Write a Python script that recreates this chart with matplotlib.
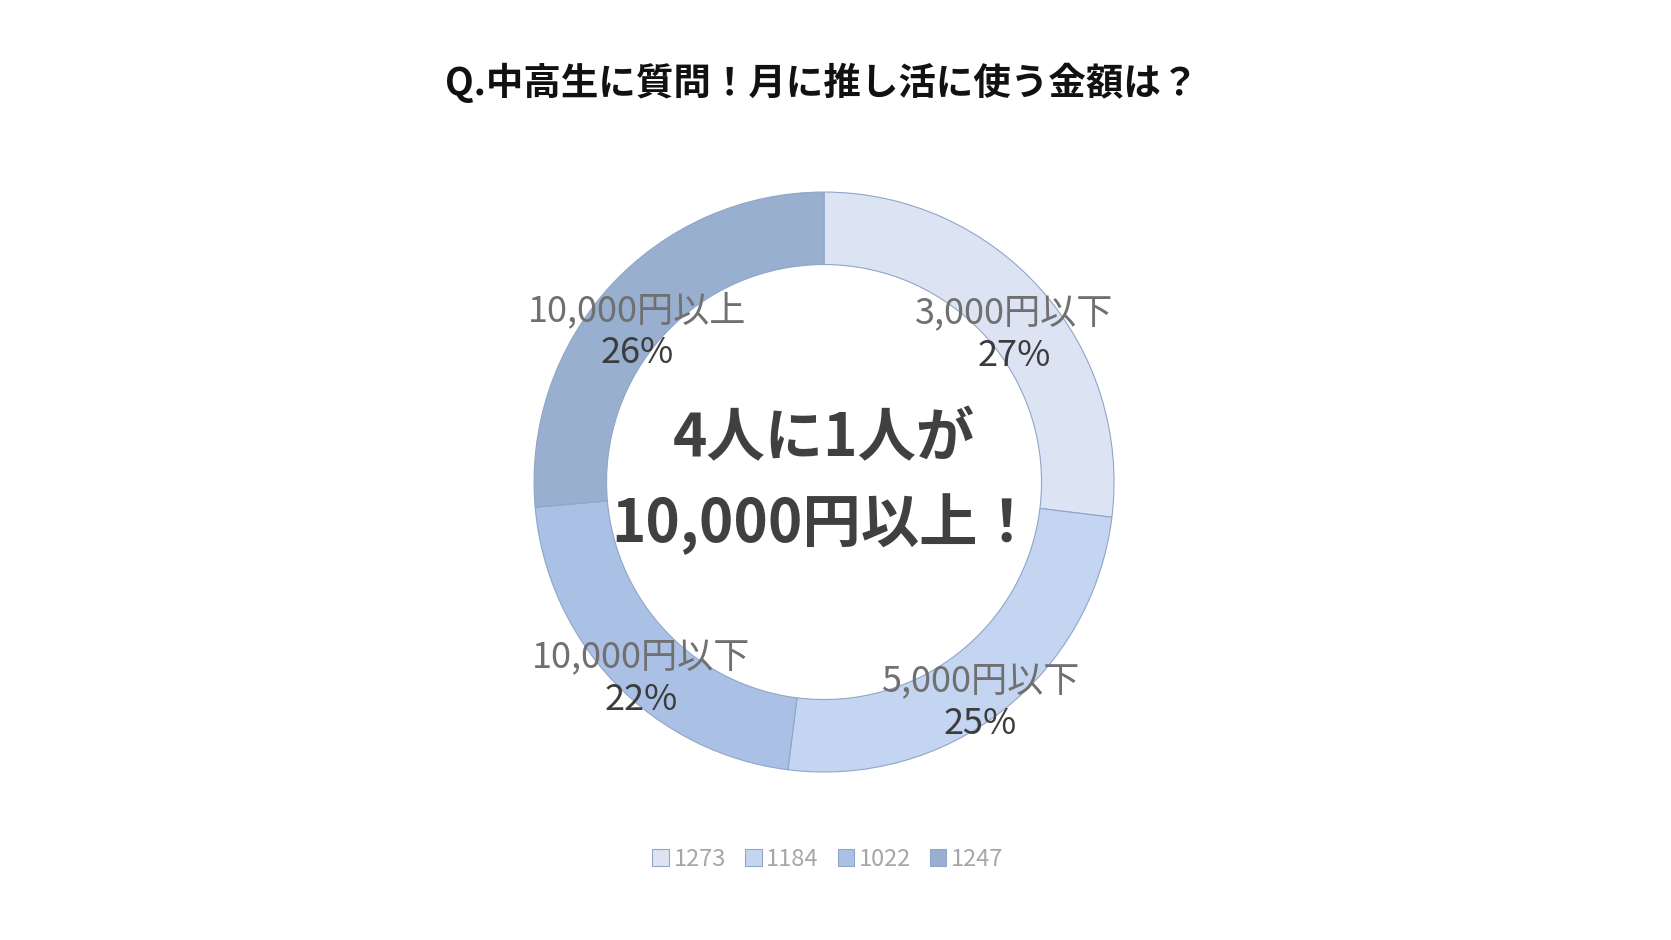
import numpy as np
import matplotlib
matplotlib.use('Agg')
import matplotlib.pyplot as plt

plt.rcParams['font.family'] = ['Noto Sans CJK JP', 'DejaVu Sans']

# データ
categories = ['3,000円以下', '5,000円以下', '10,000円以下', '10,000円以上']
counts = [1273, 1184, 1022, 1247]
colors = ['#DCE4F4', '#C3D5F0', '#AAC1E5', '#99AFD0']
title = 'Q.中高生に質問！月に推し活に使う金額は？'
center_text = ['4人に1人が', '10,000円以上！']

fig = plt.figure(figsize=(16.71, 9.40), dpi=100)

# ドーナツ用の軸（半径1 = 約290px）
ax = fig.add_axes([0.3196, 0.1787, 0.3471, 0.6170])
wedges, _ = ax.pie(counts, colors=colors, startangle=90, counterclock=False,
                   radius=1.0,
                   wedgeprops=dict(width=0.25, edgecolor='#8FA6C8', linewidth=0.8))
ax.set_xlim(-1, 1)
ax.set_ylim(-1, 1)
ax.set_aspect('equal')
ax.axis('off')

# ラベル（リングの中央にカテゴリ名、その下に割合）
total = sum(counts)
cum = 0
for cat, c in zip(categories, counts):
    mid = (cum + c / 2) / total
    cum += c
    ang = np.deg2rad(90 - 360 * mid)
    r = 0.875
    x, y = r * np.cos(ang), r * np.sin(ang)
    ax.text(x, y, cat, ha='center', va='center', fontsize=26, color='#707070')
    ax.text(x, y - 0.145, f'{round(c / total * 100)}%', ha='center', va='center',
            fontsize=26, color='#3C3C3C')

# 中央のテキスト
ax.text(0, 0.148, center_text[0], ha='center', va='center', fontsize=42,
        fontweight='bold', color='#404040')
ax.text(0, -0.145, center_text[1], ha='center', va='center', fontsize=42,
        fontweight='bold', color='#404040')

# タイトル
fig.text(0.492, 1 - 83 / 940, title, ha='center', va='center', fontsize=27,
         fontweight='bold', color='#111111')

# 凡例
leg = fig.legend(wedges, [str(c) for c in counts], loc='center',
                 bbox_to_anchor=(828 / 1671, 0.086), ncol=4, frameon=False,
                 fontsize=17, handlelength=0.7, handleheight=0.7,
                 handletextpad=0.2, columnspacing=0.8)
for t in leg.get_texts():
    t.set_color('#A6A6A6')

fig.savefig('out.png', dpi=100, facecolor='white')
